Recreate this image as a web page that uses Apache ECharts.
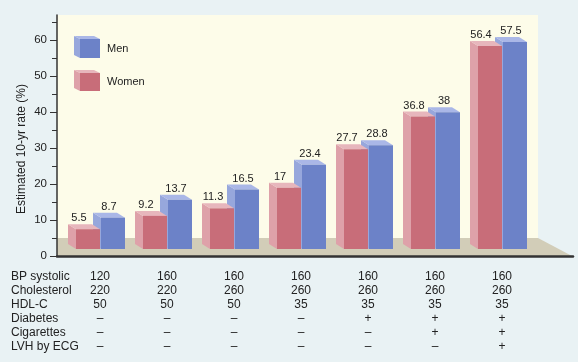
<!DOCTYPE html>
<html>
<head>
<meta charset="utf-8">
<script src="https://cdn.jsdelivr.net/npm/echarts@6/dist/echarts.min.js"></script>
<style>
html,body{margin:0;padding:0;background:#e9f2f4;}
#chart{width:578px;height:362px;}
</style>
</head>
<body>
<div id="chart"></div>
<script>
// ---- data ----
const categories = ['A','B','C','D','E','F','G'];
const women = [5.5, 9.2, 11.3, 17, 27.7, 36.8, 56.4];
const men = [8.7, 13.7, 16.5, 23.4, 28.8, 38, 57.5];
const rowLabels = ['BP systolic','Cholesterol','HDL-C','Diabetes','Cigarettes','LVH by ECG'];
const bpSystolic = [120,160,160,160,160,160,160];
const cholesterol = [220,220,260,260,260,260,260];
const hdlC = [50,50,50,35,35,35,35];
const diabetes = ['–','–','–','–','+','+','+'];
const cigarettes = ['–','–','–','–','–','+','+'];
const lvh = ['–','–','–','–','–','–','+'];
const yTicks = [0,10,20,30,40,50,60];
const yMinorTicks = [5,15,25,35,45,55,65];
const yTitle = 'Estimated 10-yr rate (%)';
const legendNames = ['Men','Women'];

const FONT = '"Liberation Sans", Arial, Helvetica, sans-serif';
const colors = {
  women: {front:'#c86d79', side:'#dea1a9', top:'#e7b6bc'},
  men: {front:'#6c82c8', side:'#97a7dc', top:'#aab7e7'}
};
const DX = -8, DY = -5;

function makeRender(kind, labelOffset) {
  return function(params, api) {
    const idx = api.value(0), val = api.value(1);
    const topPt = api.coord([idx, val]);
    const basePt = api.coord([idx, 0]);
    const c = topPt[0];
    const x0 = kind === 'women' ? c - 24 : c + 1;
    const x1 = x0 + 24;
    const yt = topPt[1], yb = basePt[1];
    const col = colors[kind];
    return {
      type: 'group',
      children: [
        {type:'polygon', shape:{points:[[x0,yb],[x0,yt],[x0+DX,yt+DY],[x0+DX,yb+DY]]}, style:{fill:col.side}},
        {type:'polygon', shape:{points:[[x0,yt],[x1,yt],[x1+DX,yt+DY],[x0+DX,yt+DY]]}, style:{fill:col.top}},
        {type:'rect', shape:{x:x0, y:yt, width:x1-x0, height:yb-yt}, style:{fill:col.front}},
        {type:'text', x:(x0+x1)/2 + labelOffset, y:yt + DY - 6,
          style:{text:String(val), fill:'#222', font:'11px ' + FONT, align:'center', verticalAlign:'middle'}}
      ]
    };
  };
}

const chart = echarts.init(document.getElementById('chart'), null, {renderer:'canvas'});

const tableText = categories.map((c, i) =>
  [bpSystolic[i], cholesterol[i], hdlC[i], diabetes[i], cigarettes[i], lvh[i]].join('\n'));

function legendBox(x, y, h, col) {
  return [
    {type:'polygon', shape:{points:[[x,y+h],[x,y],[x-6,y-3],[x-6,y+h-3]]}, style:{fill:col.side}, z:50},
    {type:'polygon', shape:{points:[[x,y],[x+20,y],[x+14,y-3],[x-6,y-3]]}, style:{fill:col.top}, z:50},
    {type:'rect', shape:{x:x, y:y, width:20, height:h}, style:{fill:col.front}, z:50}
  ];
}

const option = {
  backgroundColor: '#e9f2f4',
  animation: false,
  grid: [
    {left:57, right:5, top:15, bottom:106},
    {left:66.5, right:42.5, top:8, bottom:113}
  ],
  xAxis: [
    {gridIndex:0, type:'value', min:0, max:1,
      axisLine:{show:true, lineStyle:{color:'#333', width:2.5}},
      axisTick:{show:false}, axisLabel:{show:false}, splitLine:{show:false}},
    {gridIndex:1, type:'category', data:categories,
      axisLine:{show:false}, axisTick:{show:false}, splitLine:{show:false},
      axisLabel:{margin:21, interval:0, formatter:(v, i) => tableText[i],
        color:'#222', fontSize:12, fontFamily:FONT, lineHeight:14, align:'center'}}
  ],
  yAxis: [
    {gridIndex:0, type:'value', position:'left', offset:0, min:0, max:66.94, interval:10,
      axisLine:{show:true, lineStyle:{color:'#333', width:1.5}},
      axisTick:{show:true, length:7, customValues:yTicks, lineStyle:{color:'#333'}},
      axisLabel:{show:true, customValues:yTicks, margin:10, color:'#222', fontSize:11.5, fontFamily:FONT},
      splitLine:{show:false}},
    {gridIndex:1, type:'value', min:0, max:66.94, show:false, splitLine:{show:false}},
    {gridIndex:0, type:'value', position:'left', offset:0, min:0, max:66.94, interval:10,
      axisLine:{show:false},
      axisTick:{show:true, length:5, customValues:yMinorTicks, lineStyle:{color:'#333'}},
      axisLabel:{show:false}, splitLine:{show:false}}
  ],
  graphic: [
    {type:'rect', z:-10, shape:{x:57, y:15, width:481, height:223}, style:{fill:'#fdfce9'}},
    {type:'polygon', z:-9, shape:{points:[[57,238],[538,238],[572,256],[57,256]]}, style:{fill:'#d2cdb8'}},
    {type:'text', x:22, y:149, rotation:Math.PI/2,
      style:{text:yTitle, fill:'#222', font:'12px ' + FONT, align:'center', verticalAlign:'middle'}},
    {type:'text', x:11, y:270,
      style:{text:rowLabels.join('\n'), fill:'#222', font:'12px ' + FONT, lineHeight:14, align:'left', verticalAlign:'top'}},
    ...legendBox(80, 39, 19, colors.men),
    ...legendBox(80, 73, 18, colors.women),
    {type:'text', x:107, y:49, z:50, style:{text:legendNames[0], fill:'#222', font:'11px ' + FONT, verticalAlign:'middle'}},
    {type:'text', x:107, y:82, z:50, style:{text:legendNames[1], fill:'#222', font:'11px ' + FONT, verticalAlign:'middle'}}
  ],
  series: [
    {name:'Men', type:'custom', xAxisIndex:1, yAxisIndex:1, z:3,
      renderItem: makeRender('men', -4), encode:{x:0, y:1},
      data: men.map((v, i) => [i, v])},
    {name:'Women', type:'custom', xAxisIndex:1, yAxisIndex:1, z:4,
      renderItem: makeRender('women', -9), encode:{x:0, y:1},
      data: women.map((v, i) => [i, v])}
  ]
};
chart.setOption(option);
</script>
</body>
</html>
